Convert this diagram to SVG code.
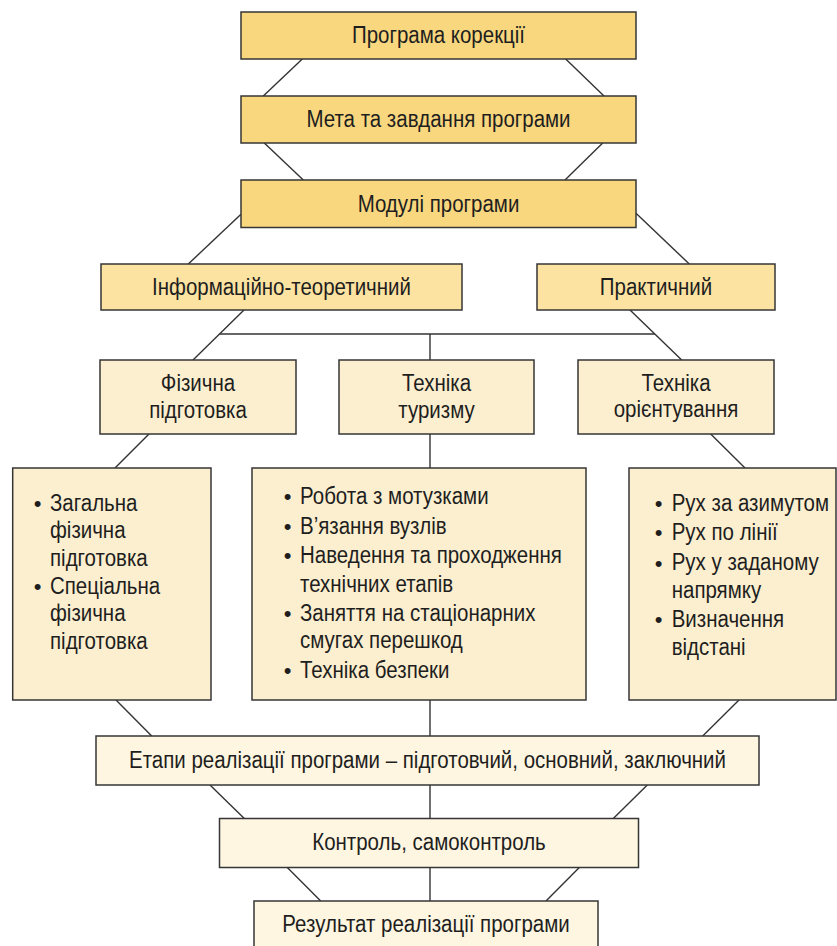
<svg xmlns="http://www.w3.org/2000/svg" width="837" height="946" viewBox="0 0 837 946">
<style>
  .box { stroke: #363636; stroke-width: 1.5; }
  .top { fill: #F9D77F; }
  .mid { fill: #FCE3A2; }
  .sub { fill: #FCEFCF; }
  .low { fill: #FEF6E0; }
  .conn line { stroke: #333333; stroke-width: 1.4; fill: none; }
  text { font-family: "Liberation Sans", Arial, sans-serif; font-size: 23px; fill: #1e1e1e; }
  .c { text-anchor: middle; }
  .bul { text-anchor: middle; font-size: 22px; }
</style>
<rect width="837" height="946" fill="#ffffff"/>

<g class="conn" id="connectors">
  <line x1="302.3" y1="59" x2="263.3" y2="96"/>
  <line x1="565.7" y1="59" x2="604" y2="96"/>
  <line x1="264.3" y1="143" x2="303.3" y2="180"/>
  <line x1="602.7" y1="143" x2="565" y2="180"/>
  <line x1="241" y1="214.3" x2="188.3" y2="264"/>
  <line x1="636" y1="213.3" x2="689.3" y2="264"/>
  <line x1="244" y1="310" x2="193" y2="360"/>
  <line x1="219.5" y1="334" x2="655" y2="334"/>
  <line x1="430" y1="334" x2="430" y2="360"/>
  <line x1="630" y1="310" x2="681.7" y2="360"/>
  <line x1="149" y1="434" x2="115" y2="468"/>
  <line x1="430" y1="434" x2="430" y2="468"/>
  <line x1="710.7" y1="434" x2="745" y2="468"/>
  <line x1="116" y1="700" x2="151.7" y2="736"/>
  <line x1="430" y1="700" x2="430" y2="736"/>
  <line x1="739" y1="700" x2="702.7" y2="736"/>
  <line x1="210" y1="785" x2="244.3" y2="818.5"/>
  <line x1="430" y1="785" x2="430" y2="818.5"/>
  <line x1="647.3" y1="785" x2="613.3" y2="818.5"/>
  <line x1="287.3" y1="867.5" x2="320.7" y2="901"/>
  <line x1="430" y1="867.5" x2="430" y2="901"/>
  <line x1="579.3" y1="867.5" x2="546" y2="901"/>
</g>

<g id="n-program">
  <rect class="box top" x="241" y="12" width="395" height="47"/>
  <text class="c" transform="translate(438.5,43) scale(0.89,1)">Програма корекції</text>
</g>
<g id="n-meta">
  <rect class="box top" x="241" y="96" width="395" height="47"/>
  <text class="c" transform="translate(438.5,127) scale(0.89,1)">Мета та завдання програми</text>
</g>
<g id="n-moduli">
  <rect class="box top" x="241" y="180" width="395" height="47.5"/>
  <text class="c" transform="translate(438.5,211.5) scale(0.89,1)">Модулі програми</text>
</g>
<g id="n-inform">
  <rect class="box mid" x="101" y="264" width="361" height="46"/>
  <text class="c" transform="translate(281.5,294.5) scale(0.89,1)">Інформаційно-теоретичний</text>
</g>
<g id="n-prakt">
  <rect class="box mid" x="537" y="264" width="238" height="46"/>
  <text class="c" transform="translate(656,294.5) scale(0.89,1)">Практичний</text>
</g>
<g id="n-fiz">
  <rect class="box sub" x="100" y="360" width="196" height="74"/>
  <text class="c" transform="translate(198,391) scale(0.89,1)">Фізична</text>
  <text class="c" transform="translate(198,418) scale(0.89,1)">підготовка</text>
</g>
<g id="n-tur">
  <rect class="box sub" x="339" y="360" width="195" height="74"/>
  <text class="c" transform="translate(436.5,391) scale(0.89,1)">Техніка</text>
  <text class="c" transform="translate(436.5,418) scale(0.89,1)">туризму</text>
</g>
<g id="n-orient">
  <rect class="box sub" x="578" y="360" width="196" height="74"/>
  <text class="c" transform="translate(676,390.5) scale(0.89,1)">Техніка</text>
  <text class="c" transform="translate(676,417) scale(0.89,1)">орієнтування</text>
</g>

<g id="n-list-fiz">
  <rect class="box sub" x="12.7" y="468" width="198.3" height="232"/>
  <text class="bul" x="37.7" y="511">•</text>
  <text class="bul" x="37.7" y="594">•</text>
  <g transform="translate(50,0) scale(0.89,1)">
    <text x="0" y="511">Загальна</text>
    <text x="0" y="538.5">фізична</text>
    <text x="0" y="566">підготовка</text>
    <text x="0" y="594">Спеціальна</text>
    <text x="0" y="621.5">фізична</text>
    <text x="0" y="649">підготовка</text>
  </g>
</g>
<g id="n-list-tur">
  <rect class="box sub" x="252" y="468" width="334" height="232"/>
  <text class="bul" x="287.5" y="504">•</text>
  <text class="bul" x="287.5" y="534">•</text>
  <text class="bul" x="287.5" y="563.3">•</text>
  <text class="bul" x="287.5" y="621">•</text>
  <text class="bul" x="287.5" y="678.3">•</text>
  <g transform="translate(300,0) scale(0.89,1)">
    <text x="0" y="504">Робота з мотузками</text>
    <text x="0" y="534">В’язання вузлів</text>
    <text x="0" y="563.3">Наведення та проходження</text>
    <text x="0" y="591.7">технічних етапів</text>
    <text x="0" y="621">Заняття на стаціонарних</text>
    <text x="0" y="648.3">смугах перешкод</text>
    <text x="0" y="678.3">Техніка безпеки</text>
  </g>
</g>
<g id="n-list-orient">
  <rect class="box sub" x="629" y="468" width="207" height="232"/>
  <text class="bul" x="658.5" y="511">•</text>
  <text class="bul" x="658.5" y="540">•</text>
  <text class="bul" x="658.5" y="570.5">•</text>
  <text class="bul" x="658.5" y="627.3">•</text>
  <g transform="translate(671.7,0) scale(0.89,1)">
    <text x="0" y="511">Рух за азимутом</text>
    <text x="0" y="540">Рух по лінії</text>
    <text x="0" y="570.5">Рух у заданому</text>
    <text x="0" y="597.7">напрямку</text>
    <text x="0" y="627.3">Визначення</text>
    <text x="0" y="655">відстані</text>
  </g>
</g>

<g id="n-etapy">
  <rect class="box low" x="96" y="736" width="663" height="49"/>
  <text class="c" transform="translate(427.5,767.5) scale(0.89,1)">Етапи реалізації програми – підготовчий, основний, заключний</text>
</g>
<g id="n-kontrol">
  <rect class="box low" x="219.5" y="818.5" width="419" height="49"/>
  <text class="c" transform="translate(429,850) scale(0.89,1)">Контроль, самоконтроль</text>
</g>
<g id="n-rezultat">
  <rect class="box low" x="254" y="901" width="344" height="52"/>
  <text class="c" transform="translate(426,932) scale(0.89,1)">Результат реалізації програми</text>
</g>
</svg>
